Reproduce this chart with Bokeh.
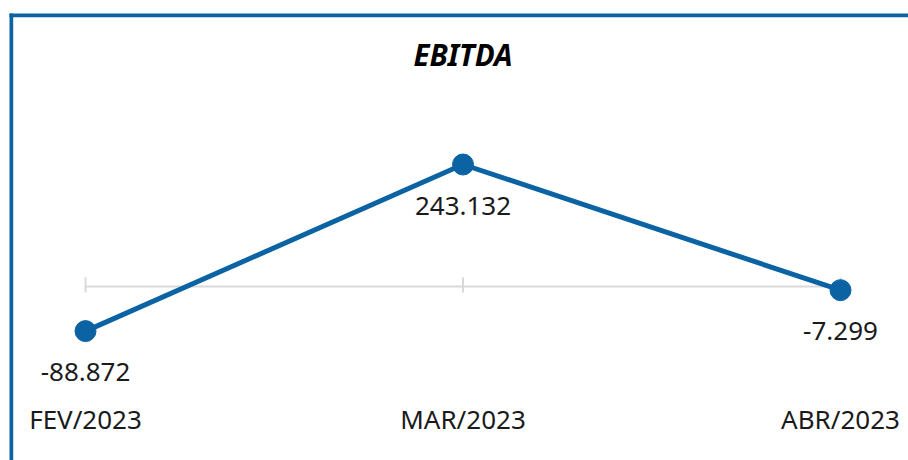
import numpy as np
from bokeh.plotting import figure
from bokeh.models import Range1d, BoxAnnotation, ColumnDataSource
from bokeh.core.properties import value
from bokeh.embed import file_html
from bokeh.resources import INLINE

# ---- data ----
categories = ["FEV/2023", "MAR/2023", "ABR/2023"]
ebitda = [-88872, 243132, -7299]
title_text = "EBITDA"

# ---- layout (pixels) ----
W, H = 908, 460
BLUE = "#0b63a3"
GRAY = "#d9d9d9"
FONT = "Noto Sans"

x_pos = list(range(len(categories)))
px_per_cat = 377.5
first_px = 85.0
zero_px = 286.0          # canvas y (from top) of value 0
peak_px = 164.0          # canvas y (from top) of max value
k = (zero_px - peak_px) / max(ebitda)   # px per unit

x_start = -first_px / px_per_cat
x_end = (W - first_px) / px_per_cat
y_start = -(H - zero_px) / k
y_end = zero_px / k


def x_at(px):
    return x_start + px / px_per_cat


def y_at(py):
    return (zero_px - py) / k


p = figure(width=W, height=H, output_backend="svg", toolbar_location=None,
           x_axis_type=None, y_axis_type=None,
           x_range=Range1d(x_start, x_end), y_range=Range1d(y_start, y_end),
           min_border=0, min_border_left=0, min_border_right=0,
           min_border_top=0, min_border_bottom=0)
p.outline_line_color = None
p.grid.visible = False
p.background_fill_color = "white"
p.border_fill_color = "white"

# frame border (left and top)
p.add_layout(BoxAnnotation(left=x_at(9), right=x_at(12.7), top=y_at(13), bottom=y_at(H + 20),
                           fill_color=BLUE, fill_alpha=1, line_color=None))
p.add_layout(BoxAnnotation(left=x_at(9), right=x_at(W + 20), top=y_at(13), bottom=y_at(16.7),
                           fill_color=BLUE, fill_alpha=1, line_color=None))

# title
p.text(x=[(x_pos[0] + x_pos[-1]) / 2], y=[y_at(54)], text=[title_text],
       text_font=value(FONT), text_font_size="29.5px", text_font_style="bold italic",
       text_color="black", text_align="center", text_baseline="middle")

# zero line and ticks
p.segment(x0=[x_pos[0]], x1=[x_pos[-1]], y0=[0], y1=[0], line_color=GRAY, line_width=2)
p.segment(x0=x_pos, x1=x_pos, y0=[y_at(277)] * len(x_pos), y1=[y_at(292)] * len(x_pos),
          line_color=GRAY, line_width=2)

src = ColumnDataSource(dict(
    x=x_pos, y=ebitda, cat=categories,
    lbl=[f"{v:,}".replace(",", ".") for v in ebitda],
    cat_y=[y_at(418)] * len(categories),
))

p.line("x", "y", source=src, line_color=BLUE, line_width=5)
p.scatter("x", "y", source=src, size=21, fill_color=BLUE, line_color=BLUE)

p.text("x", "y", text="lbl", source=src, y_offset=41,
       text_font=value(FONT), text_font_size="26px", text_color="#1a1a1a",
       text_align="center", text_baseline="middle")

p.text("x", "cat_y", text="cat", source=src,
       text_font=value(FONT), text_font_size="26px", text_color="#1a1a1a",
       text_align="center", text_baseline="middle")

open("out.html", "w").write(file_html(p, INLINE))
